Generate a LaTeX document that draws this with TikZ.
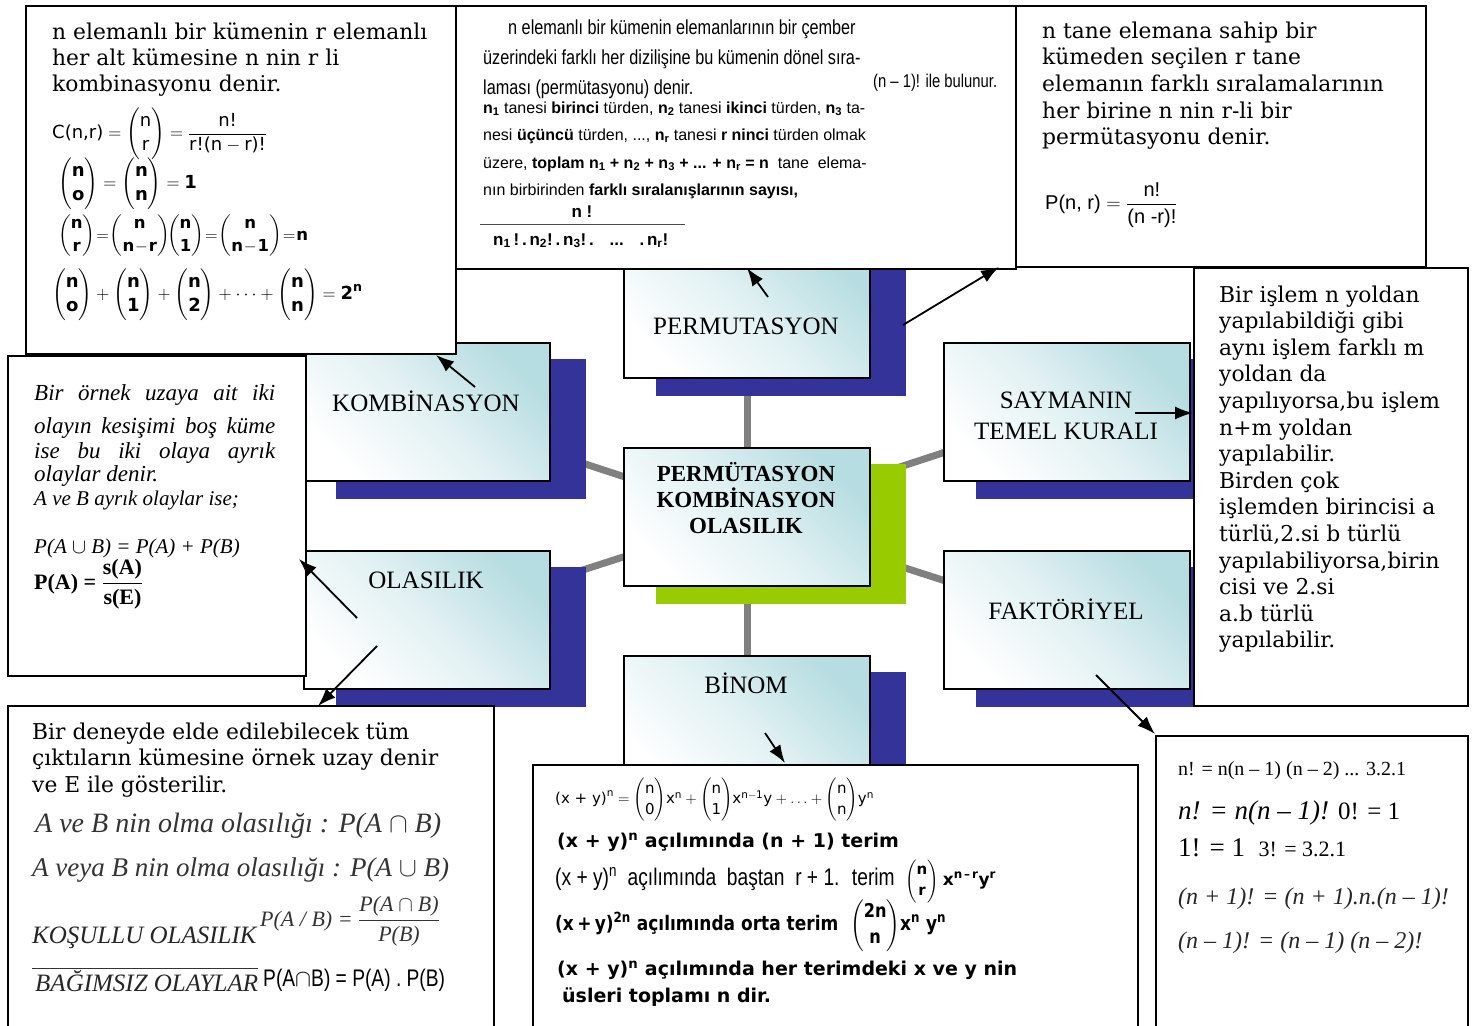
\RequirePackage{fix-cm}
\documentclass[tikz,border=0pt]{standalone}
\usepackage{amsmath}
\usepackage{fontspec}
\setmainfont{DejaVu Serif}
\newfontfamily\tms{Liberation Serif}
\newfontfamily\ars{Liberation Sans}
\newfontfamily\arsn[FakeStretch=0.8]{Liberation Sans}
\newfontfamily\dvs{DejaVu Sans}
\newfontfamily\dvsn[FakeStretch=0.85]{DejaVu Sans}
\usetikzlibrary{arrows.meta}
\pgfdeclarelayer{bgl}
\pgfdeclarelayer{spokes}
\pgfdeclarelayer{shadows}
\pgfsetlayers{bgl,spokes,shadows,main}
\definecolor{navyc}{RGB}{51,51,153}
\definecolor{greenc}{RGB}{153,204,0}
\definecolor{tealc}{RGB}{182,221,225}
\definecolor{grayc}{RGB}{128,128,128}
\newcommand{\fsz}[2]{\fontsize{#1}{#2}\selectfont}
\newcommand{\cshadow}[2]{\begin{pgfonlayer}{shadows}\fill[#2] ([shift={(33,17)}]#1.north west) rectangle ([shift={(35,17)}]#1.south east);\end{pgfonlayer}}
\begin{document}
\begin{tikzpicture}[x=1pt,y=-1pt,
  concept/.style={draw=black, line width=2.2pt, anchor=north west, inner sep=0pt,
    minimum width=246pt, minimum height=138pt,
    top color=tealc, bottom color=white, middle color=tealc!40!white, shading angle=-45},
  textbox/.style={draw=black, line width=2.2pt, fill=white, anchor=north west, inner sep=0pt},
  spoke/.style={draw=grayc, line width=7pt},
  arr/.style={draw=black, line width=1.8pt, -{Latex[length=18pt,width=13pt]}},
  clabel/.style={inner sep=0pt, font=\tms\fsz{25}{31}, align=center},
  ctrlabel/.style={inner sep=0pt, font=\tms\bfseries\fsz{23}{26}, align=center},
  bw/.style={anchor=base west, inner sep=0pt},
  wl/.style={anchor=west, inner sep=0pt},
  serif/.style={bw, font=\fsz{21.8}{26}},
]
\useasboundingbox (0,0) rectangle (1474,1025);
\clip (0,0) rectangle (1474,1025);
\begin{pgfonlayer}{bgl}\fill[white] (0,0) rectangle (1474,1025);\end{pgfonlayer}

% ---------- concept boxes ----------
\node[concept] (perm) at (623,239) {};
\node[concept] (komb) at (303,342) {};
\node[concept] (olas) at (303,550) {};
\node[concept] (ctr) at (623,447) {};
\node[concept] (binom) at (623,655) {};
\node[concept] (say) at (943,342) {};
\node[concept] (fakt) at (943,550) {};
\cshadow{perm}{navyc}
\cshadow{komb}{navyc}
\cshadow{olas}{navyc}
\cshadow{ctr}{greenc}
\cshadow{binom}{navyc}
\cshadow{say}{navyc}
\cshadow{fakt}{navyc}
\begin{pgfonlayer}{spokes}
\foreach \s in {perm,komb,olas,binom,say,fakt}{\draw[spoke] (ctr.center) -- (\s.center);}
\end{pgfonlayer}

\node[clabel] (permL) at (746,326) {PERMUTASYON};
\node[clabel] (kombL) at (426,401) {KOMBİNASYON};
\node[clabel] (olasL) at (426,580) {OLASILIK};
\node[clabel] (binomL) at (746,683) {BİNOM};
\node[clabel] (sayL) at (1066,416) {SAYMANIN\\TEMEL KURALI};
\node[clabel] (faktL) at (1066,609) {FAKTÖRİYEL};
\node[ctrlabel] (ctrL) at (746,498) {PERMÜTASYON\\KOMBİNASYON\\OLASILIK};

% ---------- text boxes ----------
\node[textbox, minimum width=430pt, minimum height=348pt] (tlbox) at (25,5) {};
\node[textbox, minimum width=560pt, minimum height=263pt] (tmbox) at (455,5) {};
\node[textbox, minimum width=410pt, minimum height=261pt] (trbox) at (1015,5) {};
\node[textbox, minimum width=298pt, minimum height=320pt] (lbox) at (7,355) {};
\node[textbox, minimum width=274pt, minimum height=438pt] (rbox) at (1193,267) {};
\node[textbox, minimum width=486pt, minimum height=340pt] (blbox) at (7,705) {};
\node[textbox, minimum width=605pt, minimum height=280pt] (bmbox) at (532,764) {};
\node[textbox, minimum width=312pt, minimum height=310pt] (brbox) at (1155,735) {};

% ---------- top-left box ----------
\node[serif] (tl1) at (52,40) {n elemanlı bir kümenin r elemanlı};
\node[serif] (tl2) at (52,66) {her alt kümesine n nin r li};
\node[serif] (tl3) at (52,92) {kombinasyonu denir.};
\node[wl, font=\dvs\fsz{18}{22}] (tlf1) at (52,134) {$\text{C(n,r)}=\dbinom{\text{n}}{\text{r}}=\dfrac{\text{n!}}{\text{r!(n}-\text{r)!}}$};
\node[wl, font=\dvs\bfseries\fsz{18}{22}] (tlf2) at (58,184) {$\dbinom{\text{n}}{\text{o}}=\dbinom{\text{n}}{\text{n}}=\text{1}$};
\node[wl, font=\dvs\bfseries\fsz{16.5}{20}] (tlf3) at (58,236) {$\thickmuskip=1mu\medmuskip=1mu\dbinom{\text{n}}{\text{r}}=\dbinom{\text{n}}{\text{n}-\text{r}}\!\dbinom{\text{n}}{\text{1}}=\dbinom{\text{n}}{\text{n}-\text{1}}=\text{n}$};
\node[wl, font=\dvs\bfseries\fsz{18}{22}] (tlf4) at (52,295) {$\dbinom{\text{n}}{\text{o}}+\dbinom{\text{n}}{\text{1}}+\dbinom{\text{n}}{\text{2}}+\cdots+\dbinom{\text{n}}{\text{n}}=\text{2}^{\text{n}}$};

% ---------- top-middle box ----------
\node[bw, font=\arsn\fsz{20.3}{22}] (tm1) at (508,35) {n elemanlı bir kümenin elemanlarının bir çember};
\node[bw, font=\arsn\fsz{20.3}{22}] (tm2) at (483,64) {üzerindeki farklı her dizilişine bu kümenin dönel sıra-};
\node[bw, font=\arsn\fsz{20.3}{22}] (tm3) at (483,94) {laması (permütasyonu) denir.};
\node[bw, font=\arsn\fsz{18.5}{22}] (tm3b) at (873,87) {(n – 1)! ile bulunur.};
\node[bw, font=\ars\fsz{16}{17}] (tm4) at (483,113) {\textbf{n\textsubscript{1}} tanesi \textbf{birinci} türden, \textbf{n\textsubscript{2}} tanesi \textbf{ikinci} türden, \textbf{n\textsubscript{3}} ta-};
\node[bw, font=\ars\fsz{16}{17}] (tm5) at (483,140) {nesi \textbf{üçüncü} türden, ..., \textbf{n\textsubscript{r}} tanesi \textbf{r ninci} türden olmak};
\node[bw, font=\ars\fsz{16}{17}] (tm6) at (483,168) {üzere, \textbf{toplam n\textsubscript{1} + n\textsubscript{2} + n\textsubscript{3} + ... + n\textsubscript{r} = n} \ tane \ elema-};
\node[bw, font=\ars\fsz{16}{17}] (tm7) at (483,195) {nın birbirinden \textbf{farklı sıralanışlarının sayısı,}};
\node[inner sep=0pt, font=\ars\bfseries\fsz{17}{18}] (tm8) at (582,212) {n !};
\coordinate (fb1) at (480,224);
\coordinate (fb2) at (685,224);
\draw[black!70, line width=1pt] (fb1) -- (fb2);
\node[bw, font=\ars\bfseries\fsz{17}{18}] (tm9) at (493,245) {n\textsubscript{1}\,!\,.\,n\textsubscript{2}!\,.\,n\textsubscript{3}!\,. \ \ ... \ \ .\,n\textsubscript{r}!};

% ---------- top-right box ----------
\foreach \tx [count=\i] in {n tane elemana sahip bir,kümeden seçilen r tane,elemanın farklı sıralamalarının,her birine n nin r-li bir,permütasyonu denir.}{
  \node[serif] (tr\i) at (1042,{38+26.7*(\i-1)}) {\tx};}
\node[wl, font=\ars\fsz{20}{24}] (trf) at (1045,205) {$\text{P(n, r)}=\dfrac{\text{n!}}{\text{(n -r)!}}$};

% ---------- left box ----------
\node[bw, font=\tms\itshape\fsz{23}{26}] (lb1) at (34,400) {\makebox[241pt][s]{Bir örnek uzaya ait iki}};
\node[bw, font=\tms\itshape\fsz{23}{26}] (lb2) at (34,433) {\makebox[241pt][s]{olayın kesişimi boş küme}};
\node[bw, font=\tms\itshape\fsz{23}{26}] (lb3) at (34,458) {\makebox[241pt][s]{ise bu iki olaya ayrık}};
\node[bw, font=\tms\itshape\fsz{23}{26}] (lb4) at (34,481) {olaylar denir.};
\node[bw, font=\tms\itshape\fsz{21}{24}] (lb5) at (34,505) {A ve B ayrık olaylar ise;};
\node[bw, font=\tms\itshape\fsz{21}{24}] (lb6) at (34,553) {P(A $\cup$ B) = P(A) + P(B)};
\node[wl, font=\tms\bfseries\fsz{22}{26}] (lb7) at (34,584) {P(A) = $\dfrac{\text{s(A)}}{\text{s(E)}}$};

% ---------- right box ----------
\foreach \tx [count=\i] in {Bir işlem n yoldan,yapılabildiği gibi,aynı işlem farklı m,yoldan da,{yapılıyorsa,bu işlem},n+m yoldan,yapılabilir.,Birden çok,işlemden birincisi a,{türlü,2.si b türlü},{yapılabiliyorsa,birin},cisi ve 2.si,a.b türlü,yapılabilir.}{
  \node[serif] (rb\i) at (1219,{302+26.6*(\i-1)}) {\tx};}

% ---------- bottom-left box ----------
\node[serif] (bl1) at (32,739) {Bir deneyde elde edilebilecek tüm};
\node[serif] (bl2) at (32,765) {çıktıların kümesine örnek uzay denir};
\node[serif] (bl3) at (32,792) {ve E ile gösterilir.};
\node[bw, font=\tms\itshape\fsz{28}{30}, text=black!80] (bl4) at (35,832) {A ve B nin olma olasılığı : P(A $\cap$ B)};
\node[bw, font=\tms\itshape\fsz{27}{30}, text=black!80] (bl5) at (32,876) {A veya B nin olma olasılığı : P(A $\cup$ B)};
\node[bw, font=\tms\itshape\fsz{25}{30}, text=black!85] (bl6) at (32,943) {KOŞULLU OLASILIK};
\node[wl, font=\tms\itshape\fsz{22}{26}, text=black!80] (bl6f) at (260,921) {P(A / B) = $\dfrac{\text{P(A}\cap\text{B)}}{\text{P(B)}}$};
\coordinate (ol1) at (32,968);
\coordinate (ol2) at (258,968);
\draw[black!80, line width=1pt] (ol1) -- (ol2);
\node[bw, font=\tms\itshape\fsz{25}{30}, text=black!85] (bl7) at (35,991) {BAĞIMSIZ OLAYLAR};
\node[bw, font=\arsn\fsz{24}{26}] (bl8) at (263,986) {P(A$\cap$B) = P(A) . P(B)};

% ---------- binom box ----------
\node[wl, font=\dvs\fsz{15}{17}] (bm1) at (555,800) {$\text{(x + y)}^{\text{n}}=\dbinom{\text{n}}{\text{0}}\text{x}^{\text{n}}+\dbinom{\text{n}}{\text{1}}\text{x}^{\text{n}-\text{1}}\text{y}+\ldots+\dbinom{\text{n}}{\text{n}}\text{y}^{\text{n}}$};
\node[bw, font=\dvs\bfseries\fsz{19}{22}] (bm2) at (557,847) {(x + y)\textsuperscript{n} açılımında (n + 1) terim};
\node[bw, font=\arsn\fsz{24}{26}] (bm3) at (555,885) {(x + y)\textsuperscript{n} \ açılımında \ baştan \ r + 1. \ terim \ {\fsz{15}{17}$\dbinom{\text{\dvs\bfseries n}}{\text{\dvs\bfseries r}}$}\,{\dvs\bfseries\fsz{17}{20}x\textsuperscript{n\,–\,r}y\textsuperscript{r}}};
\node[bw, font=\dvsn\bfseries\fsz{20}{22}] (bm4) at (555,930) {(x\,+\,y)\textsuperscript{2n} açılımında orta terim \ {\fsz{19}{22}$\dbinom{\text{2n}}{\text{n}}$}x\textsuperscript{n} y\textsuperscript{n}};
\node[bw, font=\dvs\bfseries\fsz{19}{22}] (bm5) at (557,975) {(x + y)\textsuperscript{n} açılımında her terimdeki x ve y nin};
\node[bw, font=\dvs\bfseries\fsz{19}{22}] (bm6) at (562,1002) {üsleri toplamı n dir.};

% ---------- factorial box ----------
\node[bw, font=\tms\fsz{20}{24}] (fk1) at (1178,775) {n! = n(n – 1) (n – 2) ... 3.2.1};
\node[bw, font=\tms\fsz{27}{30}] (fk2) at (1178,819) {\textit{n! = n(n – 1)!} {\fsz{25}{30}0! = 1}};
\node[bw, font=\tms\fsz{27}{30}] (fk3) at (1178,856) {1! = 1 \ {\fsz{22}{26}3! = 3.2.1}};
\node[bw, font=\tms\itshape\fsz{24}{30}, text=black!85] (fk4) at (1178,904) {(n + 1)! = (n + 1).n.(n – 1)!};
\node[bw, font=\tms\itshape\fsz{24}{30}, text=black!85] (fk5) at (1178,948) {(n – 1)! = (n – 1) (n – 2)!};

% ---------- arrows ----------
\coordinate (a1s) at (475,387); \coordinate (a1e) at (436,355);
\coordinate (a2s) at (768,297); \coordinate (a2e) at (747,268);
\coordinate (a3s) at (903,325); \coordinate (a3e) at (999,267);
\coordinate (a4s) at (1135,413); \coordinate (a4e) at (1193,413);
\coordinate (a5s) at (1096,675); \coordinate (a5e) at (1155,734);
\coordinate (a6s) at (765,733); \coordinate (a6e) at (785,763);
\coordinate (a7s) at (357,618); \coordinate (a7e) at (299,559);
\coordinate (a8s) at (377,646); \coordinate (a8e) at (318,706);
\foreach \k in {1,...,8}{\draw[arr] (a\k s) -- (a\k e);}
\end{tikzpicture}
\end{document}
